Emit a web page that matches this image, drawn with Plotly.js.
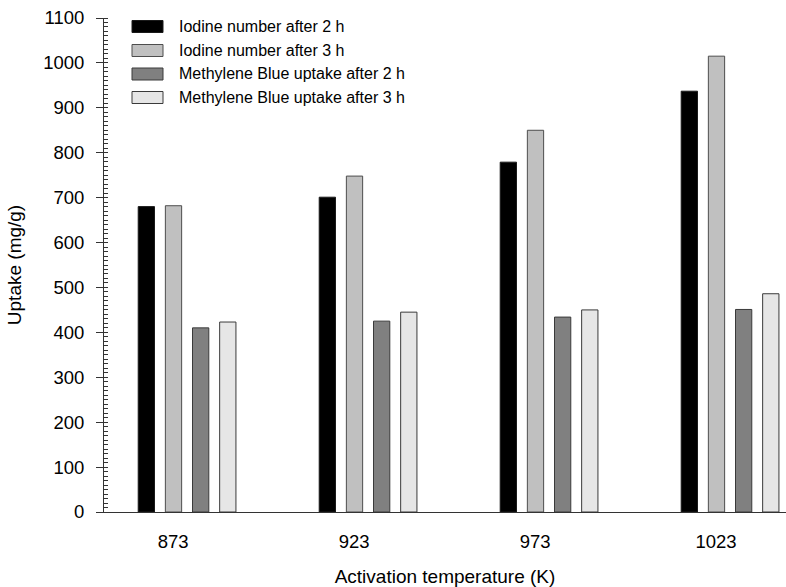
<!DOCTYPE html>
<html>
<head>
<meta charset="utf-8">
<script src="https://cdn.plot.ly/plotly-3.0.1.min.js"></script>
<style>html,body{margin:0;padding:0;background:#fff;}#chart{width:786px;height:587px;}</style>
</head>
<body>
<div id="chart"></div>
<script>
const categories = ["873", "923", "973", "1023"];
const seriesNames = [
  "Iodine number after 2 h",
  "Iodine number after 3 h",
  "Methylene Blue uptake after 2 h",
  "Methylene Blue uptake after 3 h"
];
const iodine2h = [680, 701, 779, 937];
const iodine3h = [682, 748, 850, 1015];
const mb2h = [410, 425, 434, 451];
const mb3h = [423, 445, 450, 486];
const yTicks = [0, 100, 200, 300, 400, 500, 600, 700, 800, 900, 1000, 1100];

const colors = ["#000000", "#c0c0c0", "#808080", "#e6e6e6"];
const outline = ["#1a1a1a", "#4d4d4d", "#3a3a3a", "#3a3a3a"];
const values = [iodine2h, iodine3h, mb2h, mb3h];

const traces = values.map((v, i) => ({
  type: "bar",
  name: seriesNames[i],
  x: categories,
  y: v,
  showlegend: false,
  marker: { color: colors[i], line: { color: outline[i], width: 1 } },
  hoverinfo: "x+y+name"
}));

const font = "Arial, 'Liberation Sans', sans-serif";

// Legend drawn with paper-referenced swatches and text (layout positions only)
const plotTop = 18, plotH = 587 - 18 - 75, plotL = 104, plotW = 786 - 104;
const legendRowsPx = [26.5, 50.5, 74, 97.5];
const px2x = p => (p - plotL) / plotW;
const px2y = p => (plotTop + plotH - p) / plotH;
const legendShapes = seriesNames.map((n, i) => ({
  type: "rect", xref: "paper", yref: "paper", layer: "above",
  x0: px2x(132), x1: px2x(163),
  y0: px2y(legendRowsPx[i] + 6), y1: px2y(legendRowsPx[i] - 6),
  fillcolor: colors[i], line: { color: outline[i], width: 1 }
}));
const legendTexts = seriesNames.map((n, i) => ({
  xref: "paper", yref: "paper", x: px2x(177), y: px2y(legendRowsPx[i]),
  xanchor: "left", yanchor: "middle", showarrow: false, text: n,
  font: { family: font, size: 16, color: "#000" }
}));

const layout = {
  width: 786, height: 587,
  margin: { l: 104, r: 0, t: 18, b: 75, pad: 0 },
  paper_bgcolor: "#ffffff", plot_bgcolor: "#ffffff",
  font: { family: font, size: 16, color: "#000" },
  barmode: "group",
  bargap: 0.4,
  bargroupgap: 0.4,
  showlegend: false,
  shapes: legendShapes,
  annotations: legendTexts,
  xaxis: {
    type: "category",
    range: [-0.459, 3.309],
    showline: true, linecolor: "#333", linewidth: 1,
    ticks: "", showgrid: false, zeroline: false,
    ticklabelshift: -14, ticklabelstandoff: 13,
    tickfont: { family: font, size: 18.5 },
    title: { text: "Activation temperature (K)", font: { family: font, size: 19 }, standoff: 18 },
    automargin: false
  },
  yaxis: {
    range: [0, 1100],
    tickvals: yTicks,
    ticktext: yTicks.map(String),
    showline: true, linecolor: "#333", linewidth: 1,
    ticks: "outside", ticklen: 7, tickcolor: "#333", tickwidth: 1,
    ticklabelstandoff: 8,
    minor: { dtick: 10, ticks: "inside", ticklen: 4, tickcolor: "#333", tickwidth: 1, showgrid: false },
    showgrid: false, zeroline: false,
    tickfont: { family: font, size: 18.5 },
    title: { text: "Uptake (mg/g)", font: { family: font, size: 19 }, standoff: 16 },
    automargin: false
  }
};

Plotly.newPlot("chart", traces, layout, { displayModeBar: false, staticPlot: true });
</script>
</body>
</html>
